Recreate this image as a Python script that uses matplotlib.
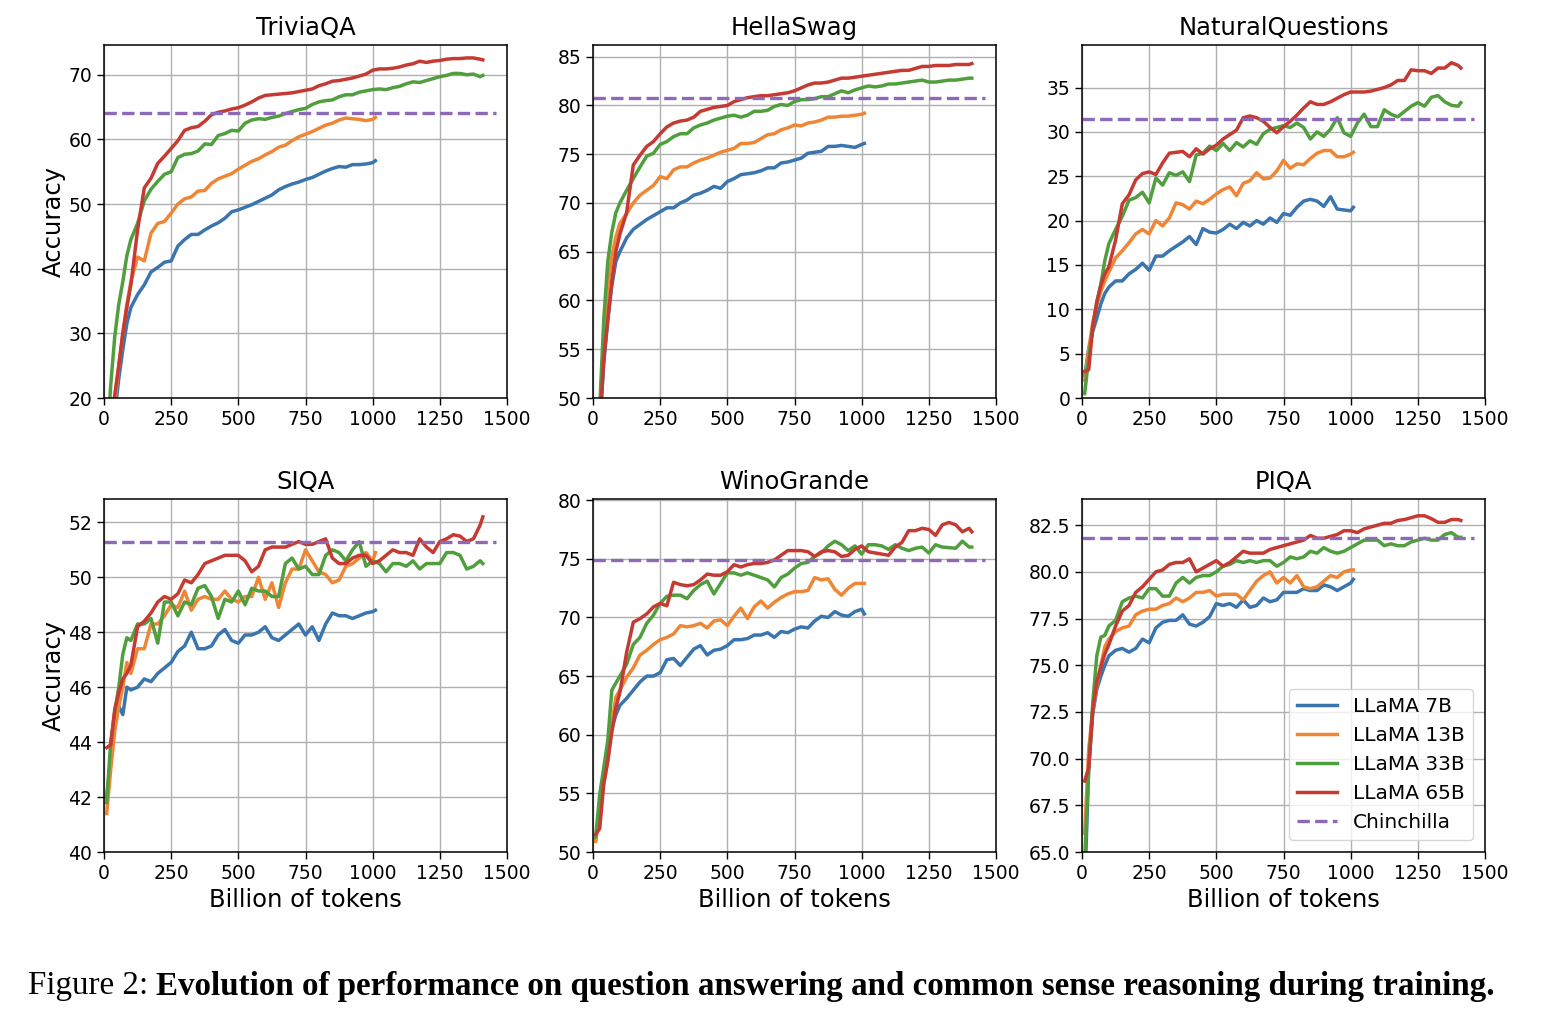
import matplotlib.pyplot as plt
import numpy as np

# sampling grid (billion of tokens)
tokens_short = np.r_[[10, 25, 40, 55, 70, 85, 100], np.arange(125, 1001, 25), 1010]
tokens_long = np.r_[[10, 25, 40, 55, 70, 85, 100], np.arange(125, 1401, 25), 1410]

tasks = ['TriviaQA', 'HellaSwag', 'NaturalQuestions', 'SIQA', 'WinoGrande', 'PIQA']
chinchilla = [64.1, 80.8, 31.5, 51.3, 74.9, 81.8]
ylims = [(20, 74.6), (50, 86.2), (0, 39.8), (40, 52.85), (50, 80.1), (65, 83.9)]
yticks = [np.arange(20, 71, 10), np.arange(50, 86, 5), np.arange(0, 36, 5),
          np.arange(40, 53, 2), np.arange(50, 81, 5), np.arange(65, 83, 2.5)]

# ---- TriviaQA
trivia_7b = [5, 11, 17.5, 23, 27.5, 31.5, 34,
             36, 37.5, 39.5, 40.2, 41, 41.2,
             43.5, 44.5, 45.3, 45.3, 46, 46.6,
             47.1, 47.8, 48.8, 49.1, 49.5, 49.9,
             50.4, 50.9, 51.4, 52.2, 52.7, 53.1,
             53.4, 53.8, 54.1, 54.6, 55.1, 55.5,
             55.8, 55.7, 56.1, 56.1, 56.2, 56.4,
             56.7]
trivia_13b = [6, 12, 19, 25, 30, 34.5, 38,
              41.8, 41.2, 45.5, 47, 47.3, 48.6,
              50, 50.8, 51.1, 52, 52.1, 53.2,
              53.9, 54.3, 54.7, 55.4, 56, 56.6,
              57, 57.6, 58.1, 58.8, 59.1, 59.8,
              60.4, 60.8, 61.2, 61.7, 62.2, 62.5,
              63, 63.3, 63.2, 63.1, 62.9, 63.1,
              63.4]
trivia_33b = [12, 22, 29.5, 34.5, 38, 42, 44.5,
              47, 50.5, 52.3, 53.5, 54.6, 55,
              57.2, 57.7, 57.8, 58.2, 59.3, 59.2,
              60.6, 60.9, 61.4, 61.3, 62.5, 63,
              63.2, 63.1, 63.4, 63.6, 64, 64.3,
              64.6, 64.8, 65.4, 65.8, 66, 66.1,
              66.6, 66.9, 66.9, 67.3, 67.5, 67.7,
              67.8, 67.7, 68, 68.2, 68.6, 68.9,
              68.8, 69.1, 69.4, 69.7, 69.9, 70.2,
              70.2, 70, 70.1, 69.7,
              69.9]
trivia_65b = [5, 14, 20.5, 25, 30, 34, 37.5,
              46, 52.5, 54, 56.3, 57.4, 58.6,
              59.8, 61.4, 61.8, 62, 62.8, 63.8,
              64.2, 64.4, 64.7, 64.9, 65.3, 65.8,
              66.4, 66.8, 66.9, 67, 67.1, 67.2,
              67.4, 67.6, 67.8, 68.3, 68.6, 69,
              69.1, 69.3, 69.5, 69.8, 70.1, 70.7,
              70.9, 70.9, 71, 71.2, 71.5, 71.7,
              72.1, 71.9, 72.1, 72.2, 72.4, 72.5,
              72.5, 72.6, 72.6, 72.4,
              72.3]

# ---- HellaSwag
hella_7b = [40, 47, 53.5, 58, 61.5, 64, 65,
            66.4, 67.3, 67.8, 68.3, 68.7, 69.1,
            69.5, 69.5, 70, 70.3, 70.8, 71,
            71.3, 71.7, 71.5, 72.2, 72.5, 72.9,
            73, 73.1, 73.3, 73.6, 73.6, 74.1,
            74.2, 74.4, 74.6, 75.1, 75.2, 75.3,
            75.8, 75.8, 75.9, 75.8, 75.7, 76,
            76.1]
hella_13b = [40, 48, 56, 61.5, 64.5, 66.5, 67.9,
             68.9, 70, 70.8, 71.3, 71.8, 72.7,
             72.5, 73.4, 73.7, 73.7, 74.1, 74.4,
             74.6, 74.9, 75.2, 75.4, 75.6, 76.1,
             76.1, 76.2, 76.6, 77, 77.1, 77.5,
             77.7, 78, 77.9, 78.2, 78.3, 78.5,
             78.8, 78.8, 78.9, 78.9, 79, 79.1,
             79.2]
hella_33b = [38, 49, 58, 64, 67, 69, 70,
             71.3, 72.5, 73.7, 74.8, 75.1, 76,
             76.3, 76.8, 77.1, 77.1, 77.7, 78,
             78.2, 78.5, 78.7, 78.9, 79, 78.8,
             79, 79.4, 79.4, 79.5, 79.9, 80.1,
             80, 80.4, 80.6, 80.6, 80.7, 80.9,
             80.9, 81.2, 81.5, 81.3, 81.6, 81.8,
             82, 81.9, 82, 82.2, 82.2, 82.3,
             82.4, 82.5, 82.6, 82.4, 82.4, 82.5,
             82.6, 82.6, 82.7, 82.8,
             82.8]
hella_65b = [38, 47, 54, 58, 62, 65, 66.8,
             69, 73.9, 74.9, 75.8, 76.3, 77.1,
             77.8, 78.2, 78.4, 78.5, 78.8, 79.4,
             79.6, 79.8, 79.9, 80, 80.4, 80.6,
             80.8, 80.9, 81, 81, 81.1, 81.2,
             81.3, 81.5, 81.8, 82.1, 82.3, 82.3,
             82.4, 82.6, 82.8, 82.8, 82.9, 83,
             83.1, 83.2, 83.3, 83.4, 83.5, 83.6,
             83.6, 83.8, 84, 84, 84.1, 84.1,
             84.1, 84.2, 84.2, 84.2,
             84.3]

# ---- NaturalQuestions
nq_7b = [2.5, 5.5, 7.5, 9, 10.6, 11.8, 12.5,
         13.2, 13.2, 14, 14.5, 15.2, 14.4,
         16, 16, 16.6, 17.1, 17.6, 18.2,
         17.3, 19.1, 18.7, 18.6, 19, 19.6,
         19.1, 19.8, 19.4, 20, 19.6, 20.3,
         19.8, 20.8, 20.6, 21.5, 22.2, 22.4,
         22.2, 21.6, 22.7, 21.3, 21.2, 21.1,
         21.5]
nq_13b = [2, 5.5, 8.5, 10.5, 12, 13.2, 14.2,
          15.8, 16.6, 17.5, 18.5, 19, 18.5,
          20, 19.4, 20.3, 22, 21.8, 21.3,
          22.2, 21.9, 22.4, 23, 23.5, 23.8,
          22.8, 24.2, 24.5, 25.4, 24.7, 24.8,
          25.6, 26.8, 25.9, 26.4, 26.3, 27,
          27.6, 27.9, 27.9, 27.2, 27.2, 27.5,
          27.7]
nq_33b = [0.5, 4.5, 8, 10.8, 12.8, 15.5, 17.4,
          19, 20.5, 22.3, 22.6, 23.2, 22,
          24.8, 24, 25.4, 25.1, 25.5, 24.4,
          27.4, 27.6, 28.4, 27.9, 28.7, 27.9,
          28.8, 28.3, 29, 28.6, 29.8, 30.3,
          30.5, 30.7, 30.5, 31, 30.5, 29.2,
          30, 29.5, 30.3, 31.6, 29.9, 29.5,
          31, 32, 30.6, 30.6, 32.5, 32,
          31.7, 32.3, 32.9, 33.3, 32.9, 33.9,
          34.1, 33.4, 33, 32.9,
          33.3]
nq_65b = [3, 3.2, 8, 10.8, 12.7, 14, 14.8,
          17.8, 21.9, 22.9, 24.6, 25.3, 25.5,
          25.2, 26.5, 27.6, 27.7, 27.8, 27.2,
          28.1, 27.5, 28.1, 28.5, 29.2, 29.7,
          30.2, 31.6, 31.8, 31.6, 31.2, 30.5,
          29.9, 30.6, 31.2, 31.9, 32.7, 33.4,
          33.1, 33.1, 33.4, 33.8, 34.2, 34.5,
          34.5, 34.5, 34.6, 34.8, 35, 35.3,
          35.8, 35.8, 37, 36.9, 36.9, 36.6,
          37.2, 37.2, 37.8, 37.5,
          37.2]

# ---- SIQA
siqa_7b = [42, 43.4, 44.8, 45.3, 45, 46, 45.9,
           46, 46.3, 46.2, 46.5, 46.7, 46.9,
           47.3, 47.5, 48, 47.4, 47.4, 47.5,
           47.9, 48.1, 47.7, 47.6, 47.9, 47.9,
           48, 48.2, 47.8, 47.7, 47.9, 48.1,
           48.3, 47.9, 48.2, 47.7, 48.3, 48.7,
           48.6, 48.6, 48.5, 48.6, 48.7, 48.75,
           48.8]
siqa_13b = [41.4, 43, 44.4, 45.3, 46, 46.9, 46.5,
            47.4, 47.4, 48.3, 48.3, 48.6, 49,
            48.9, 49.5, 48.8, 49.2, 49.3, 49.2,
            49.2, 49.5, 49.2, 49.1, 49.3, 49.3,
            50, 49.2, 49.8, 48.9, 49.8, 50.3,
            50.3, 51, 50.6, 50.2, 50.1, 49.8,
            49.9, 50.4, 50.5, 50.7, 50.9, 50.6,
            50.9]
siqa_33b = [41.8, 44, 45.1, 46, 47.2, 47.8, 47.7,
            48.3, 48.3, 48.5, 47.6, 49.1, 49.1,
            48.6, 49.1, 49, 49.6, 49.7, 49.3,
            48.5, 49.2, 49.1, 49.5, 49, 49.6,
            49.5, 49.5, 49.3, 49.3, 50.5, 50.7,
            50.3, 50.4, 50.1, 50.1, 50.8, 51,
            50.9, 50.6, 51, 51.3, 50.4, 50.6,
            50.5, 50.2, 50.5, 50.5, 50.4, 50.6,
            50.3, 50.5, 50.5, 50.5, 50.9, 50.9,
            50.8, 50.3, 50.4, 50.6,
            50.5]
siqa_65b = [43.8, 43.9, 45.2, 45.8, 46.3, 46.5, 46.8,
            48.2, 48.4, 48.7, 49.1, 49.3, 49.2,
            49.4, 49.9, 49.8, 50.1, 50.5, 50.6,
            50.7, 50.8, 50.8, 50.8, 50.6, 50.2,
            50.4, 51, 51.1, 51.1, 51.1, 51.2,
            51.3, 51.2, 51.2, 51.3, 51.4, 50.7,
            50.5, 50.5, 50.7, 50.8, 50.8, 50.5,
            50.6, 50.8, 51, 50.9, 50.9, 50.8,
            51.4, 51.1, 50.9, 51.3, 51.4, 51.55,
            51.5, 51.3, 51.4, 51.9,
            52.2]

# ---- WinoGrande
wino_7b = [51.1, 53.7, 56.5, 58.3, 60.5, 61.7, 62.5,
           63.1, 63.8, 64.5, 65, 65, 65.3,
           66.4, 66.5, 65.9, 66.6, 67.3, 67.6,
           66.8, 67.2, 67.3, 67.6, 68.1, 68.1,
           68.2, 68.5, 68.5, 68.7, 68.3, 68.8,
           68.7, 69, 69.2, 69.1, 69.7, 70.1,
           70, 70.5, 70.2, 70.1, 70.5, 70.7,
           70.3]
wino_13b = [50.9, 53.5, 55.8, 57.7, 60.8, 63.2, 63.8,
            64.9, 65.7, 66.8, 67.2, 67.7, 68.1,
            68.3, 68.6, 69.3, 69.2, 69.3, 69.5,
            69.1, 69.7, 69.8, 69.3, 70.1, 70.8,
            69.9, 70.9, 71.4, 70.8, 71.3, 71.7,
            72, 72.2, 72.2, 72.3, 73.4, 73.2,
            73.3, 72.4, 71.9, 72.5, 72.9, 72.9,
            72.9]
wino_33b = [51.3, 54.9, 57.2, 59.5, 63.8, 64.4, 65,
            66, 67.7, 68.3, 69.5, 70.2, 71.2,
            71.8, 71.9, 71.9, 71.6, 72.3, 72.8,
            73.1, 72, 72.9, 73.8, 73.8, 73.6,
            73.8, 73.6, 73.4, 73.2, 72.6, 73.4,
            73.7, 74.2, 74.6, 74.7, 75.2, 75.5,
            76.1, 76.5, 76.2, 75.7, 76.1, 75.4,
            76.2, 76.2, 76.1, 75.8, 76.2, 75.9,
            75.7, 75.9, 76, 75.5, 76.2, 76,
            75.95, 75.9, 76.5, 76,
            76]
wino_65b = [51.5, 52, 55.8, 57.8, 60.2, 62.3, 63.6,
            67, 69.6, 69.9, 70.3, 70.9, 71.2,
            71, 73, 72.8, 72.7, 72.8, 73.2,
            73.7, 73.6, 73.6, 73.9, 74.5, 74.3,
            74.5, 74.6, 74.6, 74.7, 74.9, 75.3,
            75.7, 75.7, 75.7, 75.6, 75.2, 75.6,
            75.7, 75.6, 75.2, 75.3, 75.8, 76.1,
            75.6, 75.5, 75.4, 75.3, 76, 76.4,
            77.4, 77.4, 77.6, 77.5, 77, 77.9,
            78.1, 77.9, 77.3, 77.6,
            77.3]

# ---- PIQA
piqa_7b = [63, 69.5, 72.4, 73.7, 74.4, 75, 75.5,
           75.8, 75.9, 75.7, 75.9, 76.4, 76.2,
           77, 77.3, 77.4, 77.4, 77.7, 77.2,
           77.1, 77.3, 77.6, 78.3, 78.2, 78.3,
           78.1, 78.5, 78.1, 78.2, 78.6, 78.4,
           78.5, 78.9, 78.9, 78.9, 79.1, 79,
           79, 79.3, 79.2, 79, 79.2, 79.4,
           79.6]
piqa_13b = [66, 70.5, 72.6, 73.9, 75, 76, 76.4,
            76.8, 77, 77.1, 77.7, 77.9, 78,
            78, 78.2, 78.3, 78.6, 78.4, 78.6,
            78.9, 78.9, 79, 78.7, 78.8, 78.8,
            78.8, 78.5, 79, 79.5, 79.8, 80,
            79.4, 79.7, 79.4, 79.8, 79.2, 79.1,
            79.2, 79.5, 79.8, 79.7, 80, 80.1,
            80.1]
piqa_33b = [64.5, 69.5, 73, 75.5, 76.5, 76.6, 77.1,
            77.4, 78.4, 78.6, 78.7, 78.6, 79.1,
            79.1, 78.7, 78.7, 79.4, 79.7, 79.4,
            79.7, 79.8, 79.8, 80, 80.3, 80.4,
            80.6, 80.5, 80.6, 80.5, 80.6, 80.6,
            80.3, 80.5, 80.8, 80.7, 80.8, 81.1,
            81, 81.3, 81.1, 81, 81.1, 81.3,
            81.5, 81.7, 81.7, 81.7, 81.4, 81.5,
            81.4, 81.4, 81.6, 81.7, 81.8, 81.7,
            81.7, 82, 82.1, 81.85,
            81.85]
piqa_65b = [68.8, 69.5, 72.6, 74.1, 74.9, 75.6, 76.1,
            77.1, 77.9, 78.2, 78.9, 79.2, 79.6,
            80, 80.1, 80.4, 80.5, 80.5, 80.7,
            80, 80.2, 80.4, 80.6, 80.3, 80.5,
            80.8, 81.1, 81, 81, 81, 81.2,
            81.3, 81.4, 81.5, 81.6, 81.7, 81.95,
            81.8, 81.8, 81.9, 82, 82.2, 82.2,
            82.1, 82.3, 82.4, 82.5, 82.6, 82.6,
            82.75, 82.8, 82.9, 83, 83, 82.85,
            82.65, 82.65, 82.8, 82.8,
            82.75]

curves = [
    (trivia_7b, trivia_13b, trivia_33b, trivia_65b),
    (hella_7b, hella_13b, hella_33b, hella_65b),
    (nq_7b, nq_13b, nq_33b, nq_65b),
    (siqa_7b, siqa_13b, siqa_33b, siqa_65b),
    (wino_7b, wino_13b, wino_33b, wino_65b),
    (piqa_7b, piqa_13b, piqa_33b, piqa_65b),
]
models = ['LLaMA 7B', 'LLaMA 13B', 'LLaMA 33B', 'LLaMA 65B']
colors = ['#3a75af', '#ef8636', '#519e3e', '#c53a32']
purple = '#8d69b8'

plt.rcParams['font.family'] = 'DejaVu Sans'
fig = plt.figure(figsize=(15.42, 10.24), dpi=100)

W, H = 1542, 1024
lefts = [104, 593, 1082]
tops = [45, 499]
aw, ah = 403, 353

for i, task in enumerate(tasks):
    r, c = divmod(i, 3)
    ax = fig.add_axes([lefts[c] / W, 1 - (tops[r] + ah) / H, aw / W, ah / H])
    for j, vals in enumerate(curves[i]):
        xs = tokens_short if j < 2 else tokens_long
        ax.plot(xs, vals, color=colors[j], lw=2.5, label=models[j])
    ax.plot([0, 1460], [chinchilla[i]] * 2, '--', color=purple, lw=2.4,
            label='Chinchilla')
    ax.set_xlim(0, 1500)
    ax.set_ylim(*ylims[i])
    ax.set_xticks(np.arange(0, 1501, 250))
    ax.set_yticks(yticks[i])
    ax.grid(True, color='#b0b0b0', lw=1.0)
    ax.set_axisbelow(True)
    ax.tick_params(labelsize=13.5, length=5, width=1)
    for s in ax.spines.values():
        s.set_linewidth(1.1)
    ax.set_title(task, fontsize=17.5, pad=7)
    if c == 0:
        ax.set_ylabel('Accuracy', fontsize=17.5, labelpad=2)
    if r == 1:
        ax.set_xlabel('Billion of tokens', fontsize=17.5, labelpad=4)
    if i == 5:
        ax.legend(loc='lower right', fontsize=14.5, borderaxespad=0.6)

# caption
t1 = fig.text(28 / W, 1 - 986 / H, 'Figure 2: ', family='Liberation Serif',
              fontsize=23.8, va='center')
fig.canvas.draw()
bb = t1.get_window_extent()
fig.text(bb.x1 / W, 1 - 986 / H,
         'Evolution of performance on question answering and common sense reasoning during training.',
         family='Liberation Serif', fontweight='bold', fontsize=23.8, va='center')

fig.savefig('out.png', dpi=100)
